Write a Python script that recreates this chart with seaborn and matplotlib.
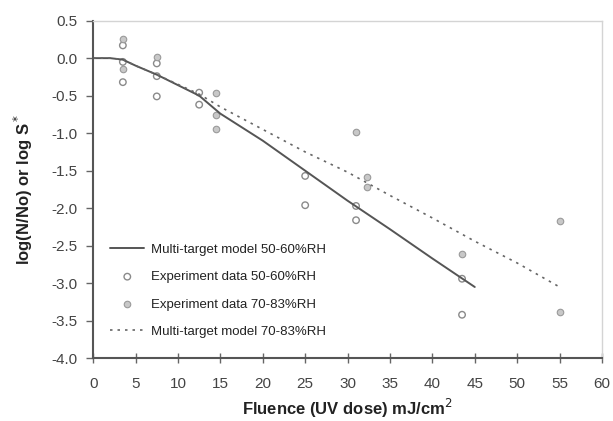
import numpy as np
import pandas as pd
import seaborn as sns
import matplotlib
matplotlib.use("Agg")
import matplotlib.pyplot as plt

sns.set_theme(style="ticks")
plt.rcParams['font.family'] = ['Liberation Sans', 'DejaVu Sans']

# model curves
model_low_x = [0, 2, 3.5, 5, 7.5, 10, 12.5, 15, 20, 25, 30, 35, 40, 45]
model_low_y = [0, 0, -0.02, -0.1, -0.22, -0.36, -0.5, -0.74, -1.1, -1.5, -1.9, -2.28, -2.67, -3.05]
model_high_x = [0, 2, 3.5, 5, 7.5, 10, 12.5, 15, 20, 25, 30, 35, 40, 45, 50, 55]
model_high_y = [0, 0, -0.02, -0.1, -0.22, -0.35, -0.48, -0.65, -0.95, -1.25, -1.52, -1.83, -2.13, -2.44, -2.73, -3.05]

# experiment points
exp_low_x = [3.5, 3.5, 3.5, 7.5, 7.5, 7.5, 12.5, 12.5, 25, 25, 31, 31, 43.5, 43.5]
exp_low_y = [0.17, -0.05, -0.32, -0.07, -0.24, -0.51, -0.46, -0.62, -1.57, -1.96, -1.97, -2.16, -2.94, -3.42]
exp_high_x = [3.5, 3.5, 7.5, 14.5, 14.5, 14.5, 31, 32.3, 32.3, 43.5, 55, 55]
exp_high_y = [0.26, -0.14, 0.01, -0.46, -0.76, -0.95, -0.98, -1.59, -1.72, -2.61, -2.17, -3.38]

fig = plt.figure(figsize=(6.13, 4.21), dpi=100)
ax = fig.add_axes([0.152, 0.149, 0.830, 0.802])

sns.lineplot(x=model_low_x, y=model_low_y, ax=ax, color="#555555", lw=1.4,
             label="Multi-target model 50-60%RH")
sns.scatterplot(x=exp_low_x, y=exp_low_y, ax=ax, marker="o", s=22,
                facecolor="none", edgecolor="#8a8a8a", linewidth=1.0,
                label="Experiment data 50-60%RH")
sns.scatterplot(x=exp_high_x, y=exp_high_y, ax=ax, marker="o", s=22,
                color="#c8c8c8", edgecolor="#9a9a9a", linewidth=0.8,
                label="Experiment data 70-83%RH")
sns.lineplot(x=model_high_x, y=model_high_y, ax=ax, color="#666666", lw=1.2,
             linestyle=(0, (1.5, 3)), label="Multi-target model 70-83%RH")

ax.set_xlim(0, 60)
ax.set_ylim(-4.0, 0.5)
ax.set_xticks(np.arange(0, 61, 5))
ax.set_yticks(np.arange(-4.0, 0.51, 0.5))
ax.set_yticklabels([f"{v:.1f}" for v in np.arange(-4.0, 0.51, 0.5)])

for side in ["left", "bottom"]:
    ax.spines[side].set_color("#555555")
    ax.spines[side].set_linewidth(1.5)
for side in ["top", "right"]:
    ax.spines[side].set_visible(True)
    ax.spines[side].set_color("#d4d4d4")
    ax.spines[side].set_linewidth(1.0)

ax.tick_params(axis="y", direction="out", length=5, width=1, color="#666666",
               labelsize=11, labelcolor="#444444", pad=6)
ax.tick_params(axis="x", direction="inout", length=7, width=1, color="#666666",
               labelsize=11, labelcolor="#444444", pad=10)

ax.set_xlabel("Fluence (UV dose) mJ/cm$^2$", fontsize=12, fontweight="bold",
              color="#222222", labelpad=4)
ax.set_ylabel("log(N/No) or log S$^*$", fontsize=12, fontweight="bold",
              color="#222222", labelpad=12)

leg = ax.legend(loc="lower left", bbox_to_anchor=(0.01, 0.025), frameon=False,
                fontsize=9.5, handlelength=2.6, labelspacing=1.15,
                handletextpad=0.5)
for t in leg.get_texts():
    t.set_color("#222222")

ax.grid(False)
fig.savefig("out.png", dpi=100, facecolor="white")
